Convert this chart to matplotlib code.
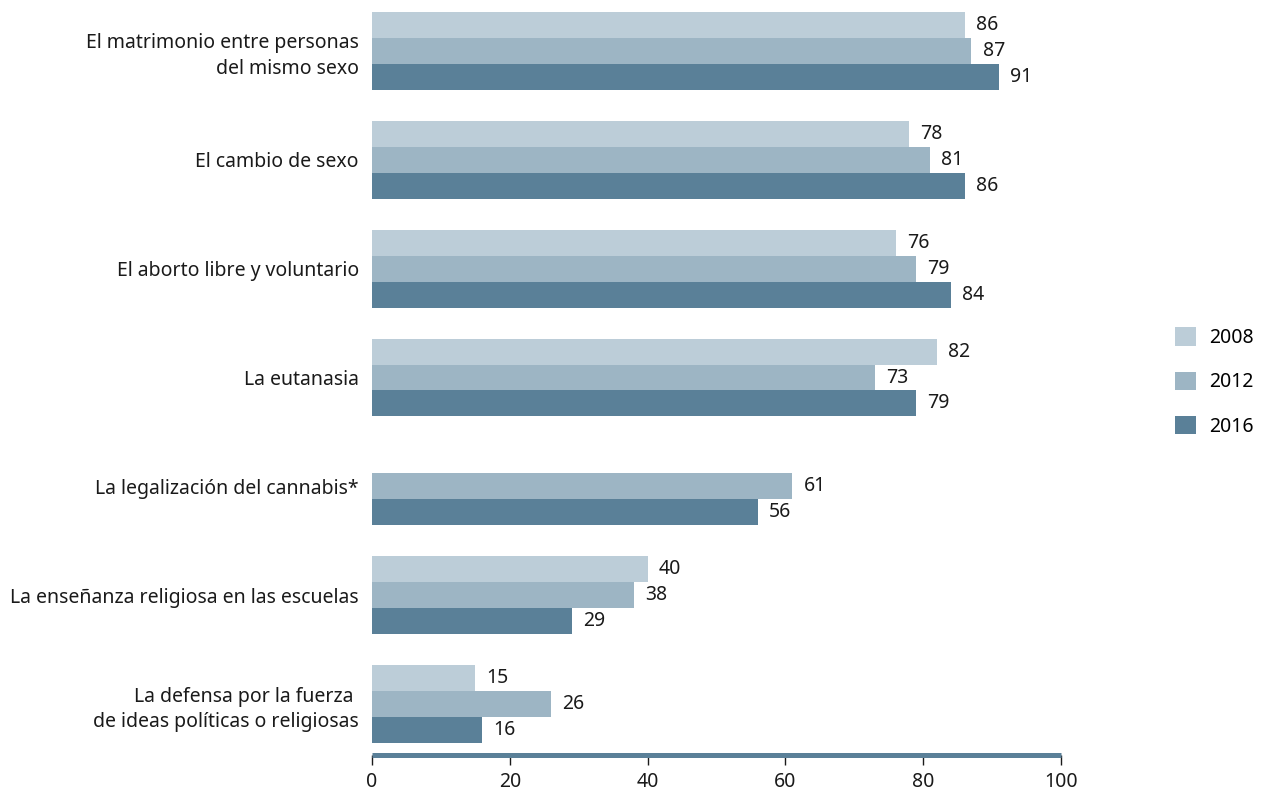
import matplotlib.pyplot as plt
from matplotlib.patches import Patch
import numpy as np

plt.rcParams['font.family'] = ['Noto Sans', 'DejaVu Sans']

# Categories and values (percent)
categories = [
    "El matrimonio entre personas\ndel mismo sexo",
    "El cambio de sexo",
    "El aborto libre y voluntario",
    "La eutanasia",
    "La legalización del cannabis*",
    "La enseñanza religiosa en las escuelas",
    "La defensa por la fuerza \nde ideas políticas o religiosas",
]
years = ["2008", "2012", "2016"]
v2008 = [86, 78, 76, 82, None, 40, 15]
v2012 = [87, 81, 79, 73, 61, 38, 26]
v2016 = [91, 86, 84, 79, 56, 29, 16]
colors = ["#bccdd8", "#9db5c4", "#5a8098"]

fig = plt.figure(figsize=(12.7, 7.93), dpi=100)
ax = fig.add_axes([372 / 1270, 1 - 755 / 793, (1061 - 372) / 1270, (755 - 12) / 793])

h = 26 / 109
offsets = [-h, 0, h]
for series, off, col in zip([v2008, v2012, v2016], offsets, colors):
    idx = [i for i, v in enumerate(series) if v is not None]
    vals = [series[i] for i in idx]
    bars = ax.barh(np.array(idx) + off, vals, height=h, color=col, linewidth=0)
    ax.bar_label(bars, labels=[str(v) for v in vals], padding=8, fontsize=14, color="#1a1a1a")

ax.set_xlim(0, 100)
ax.set_ylim(6 + 1.5 * h + 12 / 109, -1.5 * h)
ax.set_yticks(range(len(categories)))
ax.set_yticklabels(categories, fontsize=14, color="#1a1a1a", linespacing=1.35)
ax.tick_params(axis="y", length=0, pad=9.5)
ax.set_xticks([0, 20, 40, 60, 80, 100])
ax.tick_params(axis="x", length=7, width=1, color="#1a1a1a", labelsize=14, pad=5, labelcolor="#1a1a1a")

for s in ["left", "top", "right"]:
    ax.spines[s].set_visible(False)
ax.spines["bottom"].set_color("#5a8098")
ax.spines["bottom"].set_linewidth(3.6)
ax.spines["bottom"].set_capstyle("butt")

handles = [Patch(color=c, linewidth=0) for c in colors]
fig.legend(handles, years, loc="center left", bbox_to_anchor=(1175 / 1270, 1 - 382 / 793),
           bbox_transform=fig.transFigure, frameon=False, fontsize=14,
           handlelength=1.1, handleheight=1.1, handletextpad=0.65, labelspacing=1.2,
           borderpad=0, borderaxespad=0)

fig.savefig("out.png", dpi=100)
